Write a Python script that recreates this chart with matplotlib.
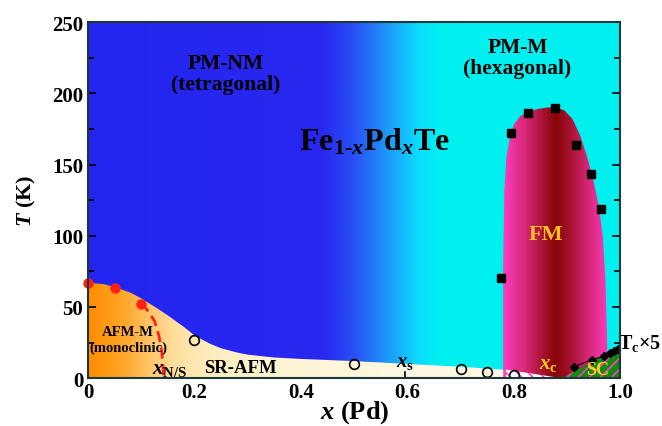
import numpy as np
import matplotlib
matplotlib.use('Agg')
import matplotlib.pyplot as plt
from matplotlib.patches import Polygon

plt.rcParams['font.family'] = ['Liberation Serif', 'DejaVu Serif']
plt.rcParams['font.weight'] = 'bold'
plt.rcParams['mathtext.fontset'] = 'custom'
plt.rcParams['mathtext.rm'] = 'Liberation Serif:bold'
plt.rcParams['mathtext.it'] = 'Liberation Serif:italic:bold'
plt.rcParams['mathtext.bf'] = 'Liberation Serif:bold'
plt.rcParams['hatch.linewidth'] = 1.2

# ---- data ----
afm_x = [0.0, 0.05, 0.10]
afm_T = [67, 63, 52]
sr_x = [0.2, 0.5, 0.7, 0.75, 0.8]
sr_T = [27, 10, 6.5, 4.5, 2]
fm_x = [0.776, 0.795, 0.827, 0.878, 0.917, 0.945, 0.964]
fm_T = [70, 172, 186, 190, 164, 143, 119]
sc_x = [0.913, 0.947, 0.970, 0.981, 0.989, 0.996]
sc_T = [8, 13, 15.5, 17.5, 19, 20.5]

# phase boundaries
sr_bound_x = [0.0, 0.03, 0.05, 0.08, 0.10, 0.13, 0.15, 0.18, 0.20, 0.23, 0.25, 0.28,
              0.30, 0.35, 0.40, 0.50, 0.60, 0.70, 0.78, 0.85, 0.89]
sr_bound_T = [67, 66, 64, 60, 56, 49, 44, 36, 30, 24, 21, 18,
              16.5, 14.5, 13.5, 12, 10, 8, 6, 3, 0]
ns_x = [0.10, 0.115, 0.125, 0.133, 0.138, 0.141, 0.142]
ns_T = [53, 46, 40, 30, 20, 8, 0]
dome_x = [0.780, 0.780, 0.782, 0.786, 0.792, 0.800, 0.812, 0.827, 0.845, 0.862, 0.878,
          0.895, 0.910, 0.925, 0.938, 0.950, 0.960, 0.967, 0.972, 0.975, 0.976]
dome_T = [0, 80, 130, 155, 168, 178, 184, 187, 189, 190, 190,
          188, 182, 170, 155, 138, 120, 100, 70, 30, 0]
sc_region_x = [0.89, 1.0, 1.0]
sc_region_T = [0, 22, 0]
hatch_x = [0.785, 0.785, 0.89]
hatch_T = [0, 6, 0]
xs_mark_x = [0.595, 0.595]
xs_mark_T = [0, 4]

x_ticks = [0, 0.2, 0.4, 0.6, 0.8, 1.0]
x_ticklabels = ['0', '0.2', '0.4', '0.6', '0.8', '1.0']
y_ticks = [0, 50, 100, 150, 200, 250]

fig = plt.figure(figsize=(6.62, 4.27), dpi=100)
ax = fig.add_axes([0.133, 0.112, 0.804, 0.834])
ax.set_xlim(0, 1)
ax.set_ylim(0, 250)


def hgrad(stops_x, stops_c, x0=0, x1=1, n=600):
    xs = np.linspace(x0, x1, n)
    c = np.array(stops_c, dtype=float) / 255.0
    img = np.stack([np.interp(xs, stops_x, c[:, k]) for k in range(3)], axis=-1)
    return img[np.newaxis, :, :]

# background: blue -> cyan
bg = hgrad([0, 0.44, 0.50, 0.56, 0.62, 0.66, 1.0],
           [(36, 36, 240), (40, 40, 240), (40, 80, 245), (30, 150, 250), (10, 220, 250), (0, 240, 240), (0, 240, 240)])
ax.imshow(bg, extent=[0, 1, 0, 250], aspect='auto', zorder=0, interpolation='bilinear')

# SR-AFM / AFM region (cream-orange gradient)
sr_poly = Polygon(list(zip(sr_bound_x, sr_bound_T)) + [(0.89, 0), (0, 0)], closed=True,
                  facecolor='none', edgecolor='none')
ax.add_patch(sr_poly)
cream = hgrad([0, 0.07, 0.12, 0.16, 0.22, 0.35, 0.6, 1.0],
              [(255, 140, 0), (255, 168, 45), (255, 200, 110), (255, 222, 155), (255, 236, 188),
               (255, 245, 210), (255, 248, 225), (255, 250, 232)])
im = ax.imshow(cream, extent=[0, 1, 0, 250], aspect='auto', zorder=1, interpolation='bilinear')
im.set_clip_path(sr_poly)

# FM dome
dome_poly = Polygon(list(zip(dome_x, dome_T)), closed=True, facecolor='none', edgecolor='none')
ax.add_patch(dome_poly)
dome = hgrad([0.0, 0.78, 0.82, 0.86, 0.878, 0.90, 0.94, 0.98, 1.0],
             [(255, 60, 190), (255, 60, 190), (215, 40, 120), (160, 15, 40), (135, 5, 5),
              (160, 15, 40), (215, 40, 120), (255, 60, 195), (255, 60, 195)])
im2 = ax.imshow(dome, extent=[0, 1, 0, 250], aspect='auto', zorder=2, interpolation='bilinear')
im2.set_clip_path(dome_poly)

# hatched areas
ax.add_patch(Polygon(list(zip(hatch_x, hatch_T)), closed=True, facecolor='white',
                     edgecolor='#ff40c0', hatch='\\\\\\', linewidth=0, zorder=3))
ax.add_patch(Polygon(list(zip(sc_region_x, sc_region_T)), closed=True, facecolor='#108a10',
                     edgecolor='#ff40c0', hatch='///', linewidth=0, zorder=3))

# N/S dashed line and x_s marker
ax.plot(ns_x, ns_T, color='#ff2020', lw=2, ls=(0, (4, 2)), zorder=4)
ax.plot(xs_mark_x, xs_mark_T, color='black', lw=1.2, zorder=4)

# markers
ax.plot(afm_x, afm_T, 'o', color='#ff2010', ms=6.5, zorder=6, clip_on=False)
ax.plot(sr_x, sr_T, 'o', mfc='none', mec='black', mew=1.2, ms=7, zorder=6)
ax.plot(fm_x, fm_T, 's', color='black', ms=5.5, zorder=6)
ax.plot(sc_x, sc_T, '-', color='black', lw=0.8, zorder=5)
ax.plot(sc_x, sc_T, 'D', color='black', ms=4.5, zorder=6)

# texts
tk = dict(ha='center', va='center', fontweight='bold', zorder=7)
ax.text(0.258, 214, 'PM-NM\n(tetragonal)', fontsize=15.5, linespacing=1.1, **tk)
ax.text(0.807, 225, 'PM-M\n(hexagonal)', fontsize=15.5, linespacing=1.1, **tk)
ax.text(0.538, 166, r'Fe$_{1\text{-}x}$Pd$_{x}$Te', fontsize=23, **tk)
ax.text(0.86, 101, 'FM', fontsize=16, color='#ffc020', **tk)
ax.text(0.075, 27, 'AFM-M\n(monoclinic)', fontsize=10.5, linespacing=1.2, **tk)
ax.text(0.153, 7, r'$x$$_{\mathrm{N/S}}$', fontsize=15, **tk)
ax.text(0.286, 7.5, 'SR-AFM', fontsize=13.5, **tk)
ax.text(0.595, 12, r'$x$$_{\mathrm{s}}$', fontsize=15, **tk)
ax.text(0.865, 11, r'$x$$_{\mathrm{c}}$', fontsize=15, color='#ffd020', **tk)
ax.text(0.957, 6, 'SC', fontsize=13, color='#ffd020', **tk)
ax.text(0.995, 25, r'T$_{\mathrm{c}}$×5', fontsize=14.5, clip_on=False,
        ha='left', va='center', fontweight='bold', zorder=7)

# axes styling
ax.set_xticks(x_ticks)
ax.set_xticklabels(x_ticklabels)
ax.set_yticks(y_ticks)
ax.set_yticks(np.arange(0, 251, 25), minor=True)
ax.tick_params(axis='both', which='both', direction='in', labelsize=15, width=1.2)
ax.tick_params(axis='y', which='major', length=6, right=True)
ax.tick_params(axis='y', which='minor', length=4, right=True)
ax.tick_params(axis='x', which='major', length=0, pad=3)
for lab in ax.get_xticklabels() + ax.get_yticklabels():
    lab.set_fontweight('bold')
for s in ax.spines.values():
    s.set_linewidth(1.5)
    s.set_color('#1c3838')
    s.set_zorder(8)

ax.set_xlabel(r'$x$ (Pd)', fontsize=19, fontweight='bold', labelpad=-3)
ax.set_ylabel(r'$T$ (K)', fontsize=16, fontweight='bold', labelpad=10)

fig.savefig('out.png', dpi=100)
